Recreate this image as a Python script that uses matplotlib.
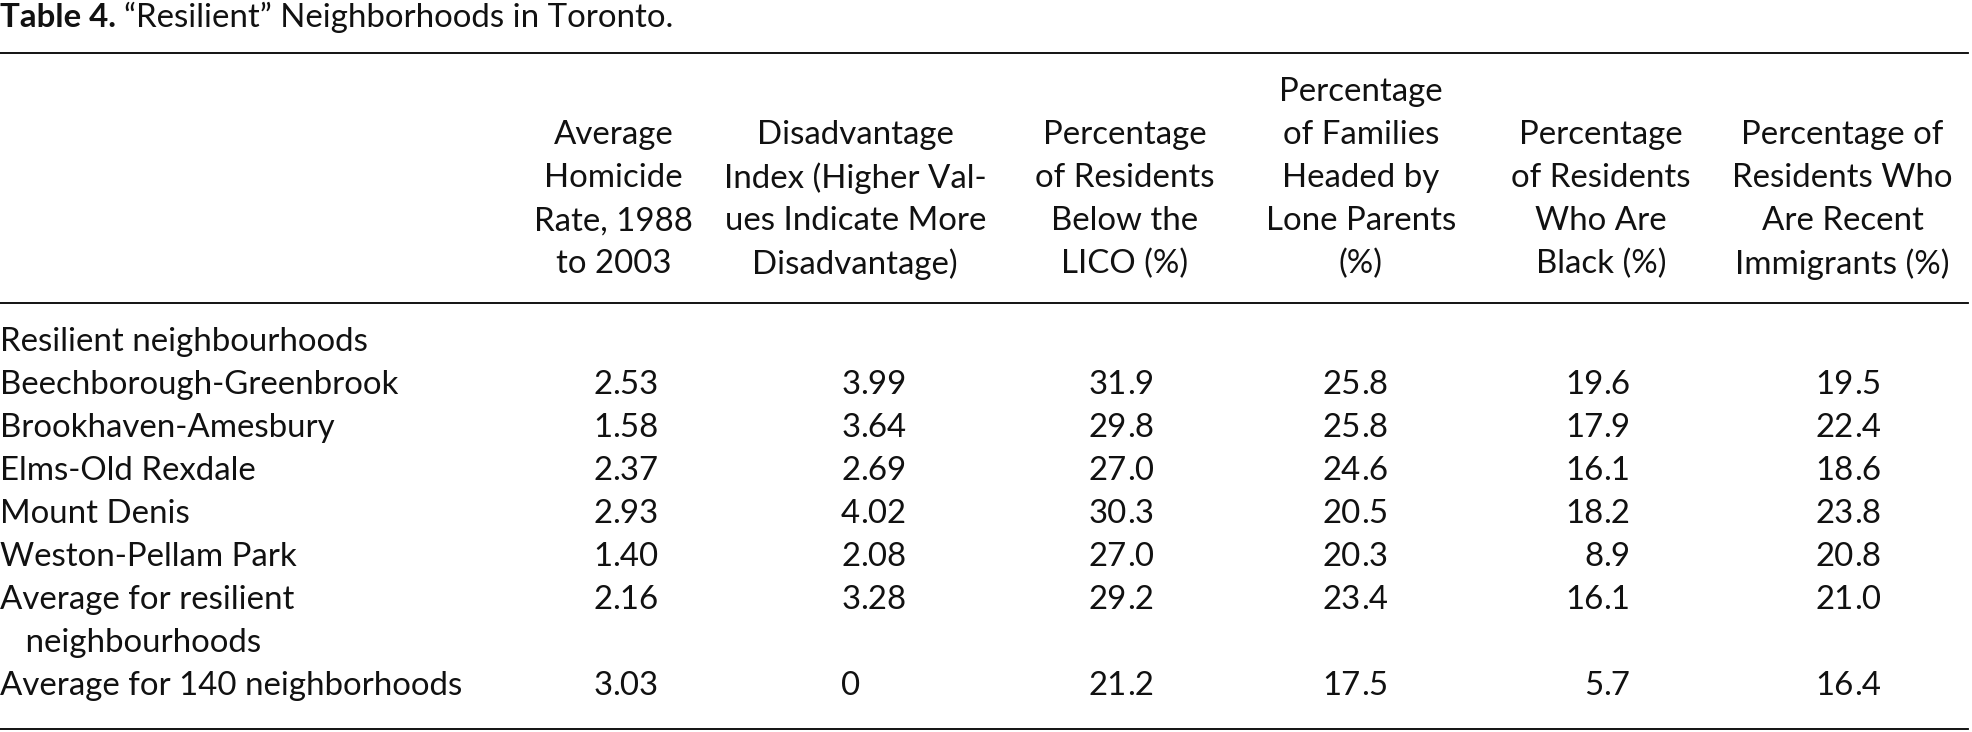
import matplotlib
matplotlib.use("Agg")
import matplotlib.pyplot as plt

FONT = "Lato"
FS = 23.8

headers = [
    ["Average", "Homicide", "Rate, 1988", "to 2003"],
    ["Disadvantage", "Index (Higher Val-", "ues Indicate More", "Disadvantage)"],
    ["Percentage", "of Residents", "Below the", "LICO (%)"],
    ["Percentage", "of Families", "Headed by", "Lone Parents", "(%)"],
    ["Percentage", "of Residents", "Who Are", "Black (%)"],
    ["Percentage of", "Residents Who", "Are Recent", "Immigrants (%)"],
]
row_labels = [
    ["Resilient neighbourhoods"],
    ["Beechborough-Greenbrook"],
    ["Brookhaven-Amesbury"],
    ["Elms-Old Rexdale"],
    ["Mount Denis"],
    ["Weston-Pellam Park"],
    ["Average for resilient", "   neighbourhoods"],
    ["Average for 140 neighborhoods"],
]
values = [
    None,
    ["2.53", "3.99", "31.9", "25.8", "19.6", "19.5"],
    ["1.58", "3.64", "29.8", "25.8", "17.9", "22.4"],
    ["2.37", "2.69", "27.0", "24.6", "16.1", "18.6"],
    ["2.93", "4.02", "30.3", "20.5", "18.2", "23.8"],
    ["1.40", "2.08", "27.0", "20.3", "8.9", "20.8"],
    ["2.16", "3.28", "29.2", "23.4", "16.1", "21.0"],
    ["3.03", "0", "21.2", "17.5", "5.7", "16.4"],
]

W, H = 1568, 582
col_center = [488, 680, 894, 1082, 1273, 1465]
col_dec = [487, 684, 896, 1082, 1275, 1474]
LINE = 34.2

fig = plt.figure(figsize=(19.72, 7.32), dpi=100)
ax = fig.add_axes([0, 0, 1, 1])
ax.set_xlim(0, W)
ax.set_ylim(H, 0)
ax.axis("off")

def txt(x, y, s, **kw):
    return ax.text(x, y, s, fontsize=FS, family=FONT, va="center", color="#111111", **kw)

t = txt(0, 14, "Table 4.", ha="left", fontweight="bold")
fig.canvas.draw()
bb = t.get_window_extent().transformed(ax.transData.inverted())
txt(bb.x1 + 6, 14, "\u201cResilient\u201d Neighborhoods in Toronto.", ha="left")

ax.plot([0, 1565], [42, 42], color="black", lw=1.3)
ax.plot([0, 1565], [241, 241], color="black", lw=1.3)
ax.plot([0, 1565], [580, 580], color="black", lw=1.3)

bottom = 210
for cx, lines in zip(col_center, headers):
    n = len(lines)
    for i, s in enumerate(lines):
        txt(cx, bottom - (n - 1 - i) * LINE, s, ha="center")

y = 272
for lab, vals in zip(row_labels, values):
    for j, s in enumerate(lab):
        txt(0, y + j * LINE, s, ha="left")
    if vals:
        for dx, v in zip(col_dec, vals):
            if "." in v:
                a, b = v.split(".")
                txt(dx, y, a, ha="right")
                txt(dx, y, "." + b, ha="left")
            else:
                txt(dx, y, v, ha="right")
    y += LINE * len(lab)

fig.savefig("out.png", dpi=100, facecolor="white")
